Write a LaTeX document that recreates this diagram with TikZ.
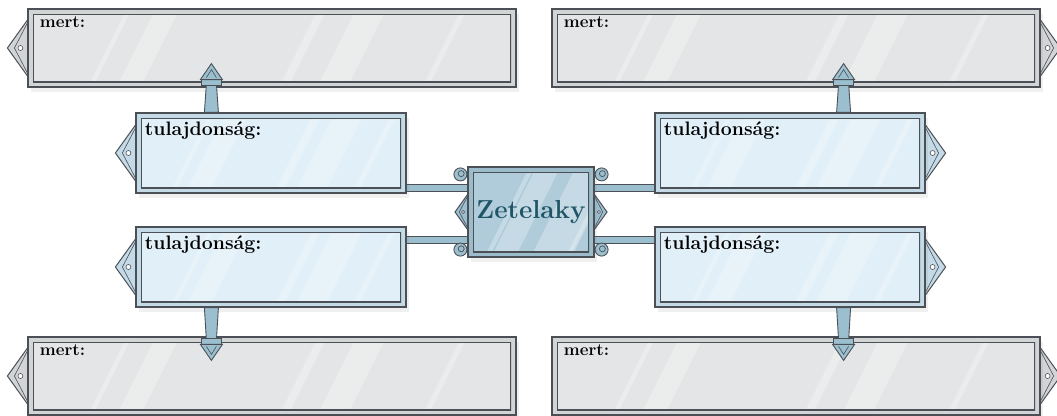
\documentclass[tikz,border=0pt]{standalone}
\usepackage{fontspec}
\usepackage{xcolor}
\usetikzlibrary{calc,positioning,backgrounds,shadows}

\definecolor{inkline}{HTML}{4B5056}
\definecolor{mertouter}{HTML}{D3D4D6}
\definecolor{mertinner}{HTML}{E4E5E6}
\definecolor{tulouter}{HTML}{C4DAE6}
\definecolor{tulinner}{HTML}{E0EFF8}
\definecolor{hubouter}{HTML}{9CBCCB}
\definecolor{hubinner}{HTML}{B0CCDA}
\definecolor{metal}{HTML}{9CBFCF}
\definecolor{hubtext}{HTML}{1F5566}

\tikzset{
  line cap=round,
  line join=round,
  every picture/.style={line width=0.9pt},
  panel/.style 2 args={draw=inkline, line width=1.2pt, fill=#1, inner sep=0pt,
    drop shadow={opacity=0.12, shadow xshift=3pt, shadow yshift=-5pt},
    path picture={
      \coordinate (pA) at ([shift={(5pt,5pt)}]path picture bounding box.south west);
      \coordinate (pB) at ([shift={(-5pt,-5pt)}]path picture bounding box.north east);
      \clip (pA) rectangle (pB);
      \fill[#2] (pA) rectangle (pB);
      \foreach \s/\w in {0.12/5,0.18/24,0.52/9,0.6/30,0.82/6}
        \fill[white, opacity=0.28] let \p1=($(pB)-(pA)$) in
          ($(pA)+(\s*\x1,0pt)$) -- ++(\w pt,0pt) -- ++(0.5*\y1,\y1) -- ++(-\w pt,0pt) -- cycle;
      \draw[inkline, line width=1.2pt] (pA) rectangle (pB);
    }},
  lbl/.style={anchor=north west, inner sep=0pt, text=black},
  mertbox/.style={panel={mertouter}{mertinner}, minimum width=488pt, minimum height=78pt,
    label={[lbl, font=\bfseries\fontsize{17}{20}\selectfont, xshift=12pt, yshift=-8pt]north west:{mert:}}},
  tulbox/.style={panel={tulouter}{tulinner}, minimum width=270pt, minimum height=80pt,
    label={[lbl, font=\bfseries\fontsize{19.5}{23}\selectfont, xshift=9pt, yshift=-9pt]north west:{tulajdonság:}}},
  hubbox/.style={panel={hubouter}{hubinner}, minimum width=126pt, minimum height=90pt,
    text=hubtext, font=\bfseries\fontsize{26}{30}\selectfont},
  rail/.style={draw=inkline, line width=0.9pt, double=metal, double distance=6pt, line cap=butt},
  stembar/.style={draw=inkline, line width=0.9pt, fill=metal},
  pics/tabpoint/.style={code={
    \filldraw[draw=inkline, line width=1pt, fill=#1] (3pt,32pt) -- (-20pt,0pt) -- (3pt,-32pt) -- cycle;
    \draw[inkline, line width=0.6pt] (0pt,25pt) -- (-13pt,0pt) -- (0pt,-25pt);
    \filldraw[draw=inkline, line width=0.6pt, fill=white] (-7pt,0pt) circle (2.5pt);
  }},
  pics/stemhead/.style={code={
    \filldraw[stembar] (-10pt,2pt) rectangle (10pt,8pt);
    \filldraw[stembar] (-11pt,8pt) -- (0pt,24pt) -- (11pt,8pt) -- cycle;
    \draw[inkline, line width=0.6pt] (-5pt,10pt) -- (0pt,18pt) -- (5pt,10pt);
  }},
  pics/curl/.style={code={
    \filldraw[stembar] (0pt,0pt) circle (6.5pt);
    \draw[inkline, line width=0.7pt] (0.8pt,0.8pt) circle (3pt);
  }}
}

\begin{document}
\begin{tikzpicture}[x=1pt, y=-1pt]
  \useasboundingbox (0,0) rectangle (1057,415);

  % panels
  \node[mertbox] (mertTL) at (272,48) {};
  \node[mertbox] (mertTR) at (796,48) {};
  \node[mertbox] (mertBL) at (272,376) {};
  \node[mertbox] (mertBR) at (796,376) {};
  \node[tulbox] (tulTL) at (271,153) {};
  \node[tulbox] (tulTR) at (790,153) {};
  \node[tulbox] (tulBL) at (271,267) {};
  \node[tulbox] (tulBR) at (790,267) {};
  \node[hubbox] (hub) at (531,212) {Zetelaky};

  % side tabs, rails and curls behind the panels
  \begin{scope}[on background layer]
    \pic at (mertTL.west) {tabpoint=mertouter};
    \pic[rotate=180] at (mertTR.east) {tabpoint=mertouter};
    \pic at (mertBL.west) {tabpoint=mertouter};
    \pic[rotate=180] at (mertBR.east) {tabpoint=mertouter};
    \pic at (tulTL.west) {tabpoint=tulouter};
    \pic at (tulBL.west) {tabpoint=tulouter};
    \pic[rotate=180] at (tulTR.east) {tabpoint=tulouter};
    \pic[rotate=180] at (tulBR.east) {tabpoint=tulouter};
    \pic[scale=0.62] at (hub.west) {tabpoint=metal};
    \pic[scale=0.62, rotate=180] at (hub.east) {tabpoint=metal};

    \coordinate (rT) at ($(hub.west)+(0pt,24pt)$);
    \coordinate (rB) at ($(hub.west)+(0pt,-28pt)$);
    \draw[rail] (rT) -- (rT -| tulTL.east);
    \draw[rail] (rB) -- (rB -| tulBL.east);
    \draw[rail] (rT -| hub.east) -- (rT -| tulTR.west);
    \draw[rail] (rB -| hub.east) -- (rB -| tulBR.west);

    \pic at ($(hub.north west)+(-7pt,-8pt)$) {curl};
    \pic at ($(hub.north east)+(7pt,-8pt)$) {curl};
    \pic at ($(hub.south west)+(-7pt,8pt)$) {curl};
    \pic at ($(hub.south east)+(7pt,8pt)$) {curl};
  \end{scope}

  % stems to the mert panels
  \coordinate (sTL) at ($(tulTL.north west)+(76pt,0pt)$);
  \coordinate (hTL) at ($(sTL |- mertTL.south)+(0pt,4pt)$);
  \filldraw[stembar] ([xshift=-7pt]sTL) -- ([xshift=-5pt]hTL) -- ([xshift=5pt]hTL) -- ([xshift=7pt]sTL) -- cycle;
  \pic at (sTL |- mertTL.south) {stemhead};

  \coordinate (sTR) at ($(tulTR.north east)+(-82pt,0pt)$);
  \coordinate (hTR) at ($(sTR |- mertTR.south)+(0pt,4pt)$);
  \filldraw[stembar] ([xshift=-7pt]sTR) -- ([xshift=-5pt]hTR) -- ([xshift=5pt]hTR) -- ([xshift=7pt]sTR) -- cycle;
  \pic at (sTR |- mertTR.south) {stemhead};

  \coordinate (sBL) at ($(tulBL.south west)+(76pt,0pt)$);
  \coordinate (hBL) at ($(sBL |- mertBL.north)+(0pt,-4pt)$);
  \filldraw[stembar] ([xshift=-7pt]sBL) -- ([xshift=-5pt]hBL) -- ([xshift=5pt]hBL) -- ([xshift=7pt]sBL) -- cycle;
  \pic[rotate=180] at (sBL |- mertBL.north) {stemhead};

  \coordinate (sBR) at ($(tulBR.south east)+(-82pt,0pt)$);
  \coordinate (hBR) at ($(sBR |- mertBR.north)+(0pt,-4pt)$);
  \filldraw[stembar] ([xshift=-7pt]sBR) -- ([xshift=-5pt]hBR) -- ([xshift=5pt]hBR) -- ([xshift=7pt]sBR) -- cycle;
  \pic[rotate=180] at (sBR |- mertBR.north) {stemhead};
\end{tikzpicture}
\end{document}
